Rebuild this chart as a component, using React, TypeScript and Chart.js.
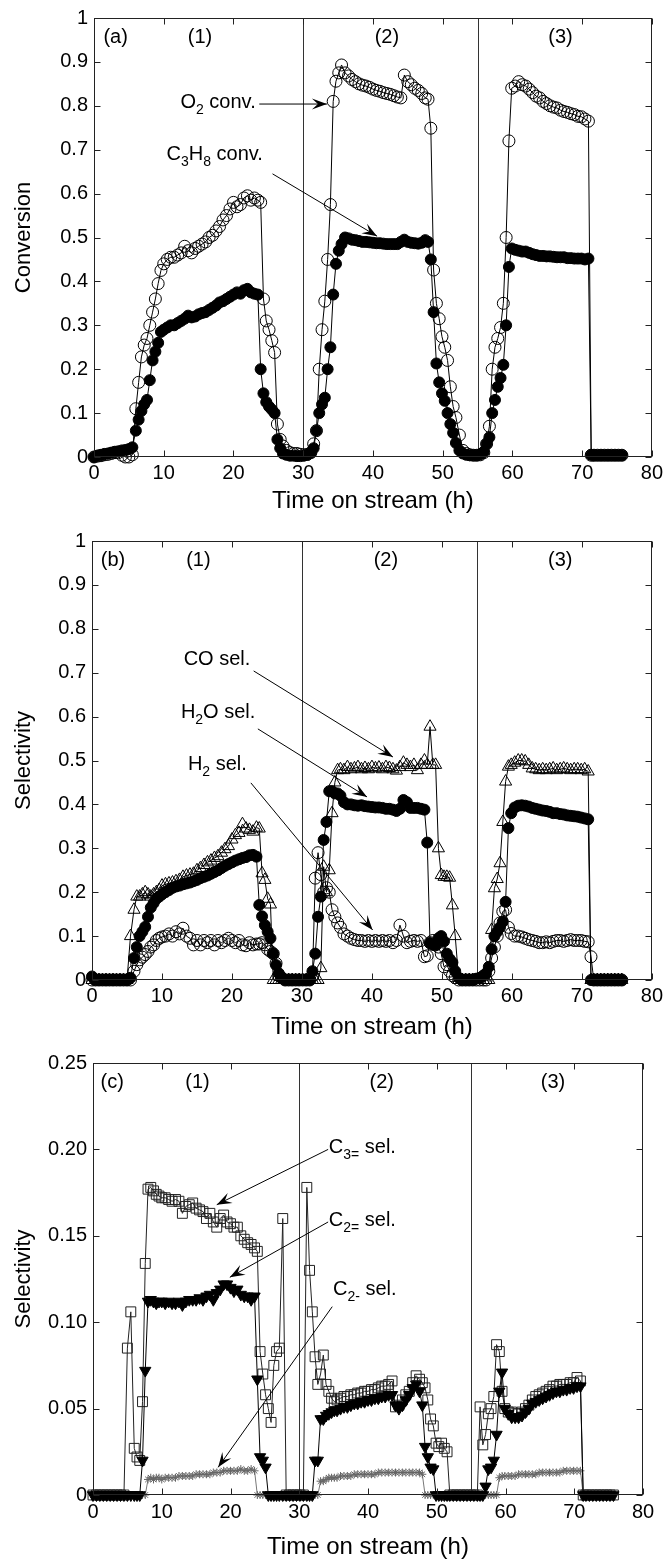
import React, { useEffect, useRef } from 'react';
import { Chart, registerables } from 'chart.js';

Chart.register(...registerables);

const FONT = '"Liberation Sans", Arial, Helvetica, sans-serif';

// Time on stream (h), shared by all three panels
const hours = [
  0, 0.5, 1, 1.5, 2, 2.5, 3, 3.5, 4, 4.5, 5, 5.5,
  6, 6.4, 6.8, 7.2, 7.6, 8, 8.4, 8.8, 9.2, 9.6,
  10, 10.5, 11, 11.5, 12, 12.5, 13, 13.5, 14, 14.5, 15, 15.5, 16, 16.5, 17, 17.5, 18, 18.5, 19, 19.5, 20, 20.5, 21, 21.5, 22, 22.5, 23, 23.5,
  23.9, 24.3, 24.7, 25.1, 25.5, 25.9, 26.3, 26.7,
  27.1, 27.6, 28.1, 28.6, 29.1, 29.6, 30.1, 30.6, 31.1,
  31.5, 31.9, 32.3, 32.7, 33.1, 33.5, 33.9, 34.3, 34.7, 35.1,
  35.5, 36, 36.5, 37, 37.5, 38, 38.5, 39, 39.5, 40, 40.5, 41, 41.5, 42, 42.5, 43, 43.5, 44, 44.5, 45, 45.5, 46, 46.5, 47, 47.5,
  47.9, 48.3, 48.7, 49.1, 49.5, 49.9, 50.3, 50.7, 51.1, 51.5, 51.9,
  52.4, 52.9, 53.4, 53.9, 54.4, 54.9, 55.4, 55.9,
  56.3, 56.7, 57.1, 57.5, 57.9, 58.3, 58.7, 59.1, 59.5,
  59.9, 60.4, 60.9, 61.4, 61.9, 62.4, 62.9, 63.4, 63.9, 64.4, 64.9, 65.4, 65.9, 66.4, 66.9, 67.4, 67.9, 68.4, 68.9, 69.4, 69.9, 70.4, 70.9,
  71.3, 71.7, 72.2, 72.7, 73.2, 73.7, 74.2, 74.7, 75.2, 75.7,
];

// (a) conversions
const c3h8Conv = [
  0, 0.003, 0.005, 0.007, 0.008, 0.01, 0.012, 0.013, 0.015, 0.016, 0.018, 0.022,
  0.06, 0.085, 0.105, 0.12, 0.13, 0.175, 0.22, 0.24, 0.26, 0.285,
  0.29, 0.295, 0.3, 0.3, 0.305, 0.31, 0.315, 0.322, 0.318, 0.32, 0.325, 0.328, 0.33, 0.335, 0.34, 0.345, 0.352, 0.355, 0.36, 0.365, 0.37, 0.375, 0.372, 0.38, 0.383, 0.375, 0.372, 0.37,
  0.2, 0.145, 0.125, 0.115, 0.108, 0.1, 0.04, 0.02,
  0.008, 0.005, 0.003, 0.003, 0.002, 0.002, 0.003, 0.005, 0.01,
  0.02, 0.06, 0.1, 0.12, 0.135, 0.2, 0.25, 0.37, 0.44, 0.47,
  0.485, 0.5, 0.498, 0.495, 0.494, 0.492, 0.49, 0.49, 0.489, 0.488, 0.487, 0.487, 0.486, 0.485, 0.485, 0.485, 0.485, 0.49, 0.495, 0.49, 0.488, 0.487, 0.486, 0.488, 0.494,
  0.49, 0.45, 0.33, 0.213, 0.17, 0.145, 0.128, 0.1, 0.075, 0.055, 0.032,
  0.015, 0.008, 0.005, 0.004, 0.004, 0.004, 0.006, 0.012,
  0.03, 0.045, 0.1, 0.13, 0.16, 0.18, 0.21, 0.3, 0.433,
  0.475, 0.472, 0.47, 0.468, 0.468, 0.465, 0.462, 0.46, 0.458, 0.458, 0.457, 0.457, 0.456, 0.455, 0.455, 0.455, 0.453, 0.453, 0.452, 0.452, 0.452, 0.45, 0.452,
  0.005, 0.004, 0.004, 0.004, 0.004, 0.004, 0.004, 0.004, 0.004, 0.004,
];
const o2Conv = [
  0, 0.002, 0.003, 0.005, 0.006, 0.008, 0.01, 0.01, 0.004, 0, 0, 0.005,
  0.11, 0.17, 0.228, 0.255, 0.27, 0.3, 0.33, 0.36, 0.395, 0.425,
  0.44, 0.45, 0.455, 0.455, 0.46, 0.465, 0.48, 0.47, 0.465, 0.475, 0.48, 0.485, 0.49, 0.5, 0.505, 0.515, 0.525, 0.54, 0.55, 0.565, 0.58, 0.57, 0.575, 0.59, 0.595, 0.585, 0.59, 0.585,
  0.58, 0.36, 0.31, 0.29, 0.265, 0.238, 0.075, 0.04,
  0.025, 0.015, 0.01, 0.008, 0.008, 0.006, 0.005, 0.006, 0.01,
  0.03, 0.06, 0.2, 0.29, 0.355, 0.45, 0.575, 0.81, 0.856, 0.875,
  0.893, 0.875, 0.868, 0.86, 0.855, 0.85, 0.847, 0.845, 0.842, 0.838, 0.835, 0.833, 0.83, 0.828, 0.826, 0.823, 0.82, 0.818, 0.87, 0.855, 0.848, 0.84, 0.835, 0.828, 0.818,
  0.815, 0.749, 0.426, 0.35, 0.315, 0.274, 0.25, 0.22, 0.16, 0.115, 0.09,
  0.05, 0.015, 0.008, 0.005, 0.004, 0.004, 0.005, 0.01,
  0.03, 0.07, 0.2, 0.25, 0.27, 0.295, 0.35, 0.5, 0.72,
  0.84, 0.845, 0.855, 0.848, 0.845, 0.838, 0.83, 0.822, 0.818, 0.81, 0.805, 0.8, 0.797, 0.795, 0.79, 0.787, 0.785, 0.782, 0.78, 0.776, 0.775, 0.77, 0.765,
  0.004, 0.004, 0.004, 0.004, 0.004, 0.004, 0.004, 0.004, 0.004, 0.004,
];

// (b) selectivities
const h2oSel = [
  0.008, 0, 0, 0, 0, 0, 0, 0, 0, 0, 0, 0.005,
  0.05, 0.075, 0.1, 0.11, 0.121, 0.144, 0.165, 0.175, 0.185, 0.19,
  0.195, 0.2, 0.205, 0.21, 0.213, 0.215, 0.218, 0.22, 0.222, 0.225, 0.228, 0.232, 0.235, 0.238, 0.242, 0.246, 0.25, 0.255, 0.26, 0.264, 0.268, 0.272, 0.275, 0.278, 0.28, 0.284, 0.285, 0.281,
  0.171, 0.145, 0.125, 0.11, 0.095, 0.06, 0.034, 0.015,
  0.005, 0, 0, 0, 0, 0, 0, 0, 0,
  0.02, 0.06, 0.144, 0.19, 0.319, 0.36, 0.43, 0.43, 0.425, 0.425,
  0.42, 0.405, 0.4, 0.4, 0.398, 0.397, 0.398, 0.396, 0.395, 0.394, 0.393, 0.393, 0.392, 0.39, 0.39, 0.388, 0.385, 0.39, 0.41, 0.405, 0.392, 0.392, 0.392, 0.39, 0.388,
  0.313, 0.084, 0.08, 0.08, 0.095, 0.1, 0.088, 0.06, 0.048, 0.04, 0.02,
  0.005, 0, 0, 0, 0, 0.003, 0.005, 0.01,
  0.015, 0.03, 0.07, 0.1, 0.11, 0.12, 0.133, 0.178, 0.346,
  0.38, 0.393, 0.397, 0.398, 0.397, 0.395, 0.392, 0.39, 0.388, 0.386, 0.385, 0.383, 0.38, 0.38, 0.378, 0.377, 0.375, 0.374, 0.373, 0.372, 0.37, 0.368, 0.366,
  0, 0, 0, 0, 0, 0, 0, 0, 0, 0,
];
const coSel = [
  0, 0, 0, 0, 0, 0, 0, 0, 0, 0, 0, 0.1,
  0.16, 0.19, 0.19, 0.195, 0.2, 0.195, 0.19, 0.195, 0.2, 0.205,
  0.215, 0.218, 0.22, 0.222, 0.225, 0.228, 0.235, 0.238, 0.24, 0.242, 0.25, 0.255, 0.262, 0.268, 0.272, 0.278, 0.282, 0.29, 0.298, 0.305, 0.32, 0.33, 0.335, 0.355, 0.345, 0.342, 0.338, 0.347,
  0.345, 0.243, 0.228, 0.185, 0.172, 0, 0, 0,
  0, 0, 0, 0, 0, 0, 0, 0, 0,
  0, 0, 0, 0.027, 0.258, 0.2, 0.25, 0.38, 0.45, 0.478,
  0.48, 0.478, 0.485, 0.48, 0.482, 0.485, 0.48, 0.483, 0.48, 0.485, 0.482, 0.484, 0.48, 0.485, 0.483, 0.48, 0.477, 0.485, 0.495, 0.49, 0.485, 0.49, 0.478, 0.49, 0.5,
  0.49, 0.577, 0.49, 0.49, 0.3, 0.239, 0.235, 0.235, 0.233, 0.17, 0.1,
  0, 0, 0, 0, 0, 0, 0, 0,
  0, 0, 0.114, 0.209, 0.23, 0.266, 0.36, 0.452, 0.486,
  0.49, 0.495, 0.5, 0.5, 0.498, 0.49, 0.482, 0.48, 0.478, 0.48, 0.478, 0.48, 0.482, 0.478, 0.48, 0.482, 0.48, 0.478, 0.48, 0.48, 0.478, 0.48, 0.475,
  0, 0, 0, 0, 0, 0, 0, 0, 0, 0,
];
const h2Sel = [
  0, 0, 0, 0, 0, 0, 0, 0, 0, 0, 0, 0,
  0.02, 0.035, 0.046, 0.052, 0.058, 0.065, 0.075, 0.08, 0.09, 0.095,
  0.098, 0.1, 0.105, 0.1, 0.11, 0.105, 0.118, 0.1, 0.095, 0.08, 0.09, 0.08, 0.09, 0.085, 0.09, 0.08, 0.09, 0.085, 0.09, 0.095, 0.09, 0.085, 0.09, 0.08, 0.078, 0.085, 0.08, 0.082,
  0.082, 0.085, 0.08, 0.07, 0.065, 0.06, 0.038, 0.01,
  0.005, 0, 0, 0, 0, 0, 0, 0, 0,
  0.01, 0.232, 0.29, 0.24, 0.2, 0.21, 0.2, 0.16, 0.144, 0.13,
  0.12, 0.105, 0.1, 0.095, 0.092, 0.09, 0.09, 0.088, 0.09, 0.088, 0.09, 0.088, 0.09, 0.088, 0.09, 0.085, 0.09, 0.125, 0.1, 0.085, 0.088, 0.09, 0.088, 0.09, 0.053,
  0.055, 0.085, 0.09, 0.08, 0.075, 0.06, 0.03, 0.035, 0.02, 0.01, 0.005,
  0, 0, 0, 0, 0, 0, 0, 0,
  0, 0.02, 0.05, 0.075, 0.1, 0.13, 0.156, 0.16, 0.12,
  0.106, 0.1, 0.1, 0.098, 0.095, 0.092, 0.09, 0.088, 0.085, 0.085, 0.087, 0.085, 0.088, 0.09, 0.09, 0.088, 0.09, 0.092, 0.09, 0.09, 0.09, 0.088, 0.087,
  0.053, 0, 0, 0, 0, 0, 0, 0, 0, 0,
];

// (c) hydrocarbon selectivities
const c3eneSel = [
  0, 0, 0, 0, 0, 0, 0, 0, 0, 0, 0.085, 0.106,
  0.027, 0.022, 0.02, 0.054, 0.134, 0.177, 0.178, 0.176, 0.174, 0.173,
  0.172, 0.172, 0.171, 0.17, 0.171, 0.17, 0.163, 0.167, 0.168, 0.169, 0.166, 0.165, 0.164, 0.16, 0.163, 0.158, 0.155, 0.16, 0.162, 0.158, 0.157, 0.155, 0.155, 0.15, 0.148, 0.146, 0.145, 0.143,
  0.141, 0.083, 0.07, 0.058, 0.05, 0.042, 0.075, 0.083,
  0.085, 0.16, 0, 0, 0, 0, 0, 0, 0.178,
  0.13, 0.106, 0.08, 0.064, 0.07, 0.081, 0.064, 0.06, 0.056, 0.054,
  0.055, 0.056, 0.057, 0.057, 0.058, 0.058, 0.059, 0.059, 0.06, 0.06, 0.061, 0.061, 0.062, 0.063, 0.063, 0.064, 0.066, 0.051, 0.052, 0.055, 0.058, 0.06, 0.065, 0.069, 0.067,
  0.065, 0.062, 0.055, 0.044, 0.04, 0.03, 0.028, 0.03, 0.027, 0.025, 0,
  0, 0, 0, 0, 0, 0, 0, 0,
  0.051, 0.029, 0.035, 0.047, 0.05, 0.057, 0.087, 0.083, 0.06,
  0.05, 0.048, 0.048, 0.047, 0.047, 0.048, 0.05, 0.052, 0.055, 0.057, 0.058, 0.059, 0.06, 0.061, 0.063, 0.063, 0.064, 0.064, 0.064, 0.065, 0.065, 0.068, 0.066,
  0, 0, 0, 0, 0, 0, 0, 0, 0, 0,
];
const c2eneSel = [
  0, 0, 0, 0, 0, 0, 0, 0, 0, 0, 0, 0,
  0, 0, 0, 0.02, 0.072, 0.112, 0.113, 0.112, 0.111, 0.112,
  0.112, 0.111, 0.112, 0.111, 0.111, 0.112, 0.11, 0.112, 0.113, 0.113, 0.113, 0.114, 0.113, 0.115, 0.116, 0.113, 0.117, 0.119, 0.122, 0.122, 0.12, 0.118, 0.119, 0.116, 0.115, 0.115, 0.113, 0.115,
  0.067, 0.022, 0.02, 0.016, 0, 0, 0, 0,
  0, 0, 0, 0, 0, 0, 0, 0, 0,
  0, 0, 0.02, 0.02, 0.044, 0.044, 0.046, 0.047, 0.048, 0.049,
  0.049, 0.05, 0.051, 0.051, 0.052, 0.053, 0.053, 0.054, 0.054, 0.055, 0.055, 0.056, 0.056, 0.057, 0.057, 0.058, 0.058, 0.052, 0.05, 0.052, 0.055, 0.058, 0.062, 0.064, 0.06,
  0.052, 0.028, 0.022, 0.016, 0.015, 0, 0, 0, 0, 0, 0,
  0, 0, 0, 0, 0, 0, 0, 0,
  0, 0, 0.005, 0.015, 0.016, 0.02, 0.035, 0.06, 0.071,
  0.05, 0.047, 0.045, 0.045, 0.045, 0.046, 0.048, 0.05, 0.053, 0.054, 0.055, 0.056, 0.057, 0.058, 0.059, 0.06, 0.06, 0.061, 0.061, 0.062, 0.062, 0.063, 0.063,
  0, 0, 0, 0, 0, 0, 0, 0, 0, 0,
];
const c2aneSel = [
  0, 0, 0, 0, 0, 0, 0, 0, 0, 0, 0, 0,
  0, 0, 0, 0, 0, 0.009, 0.01, 0.009, 0.01, 0.01,
  0.009, 0.01, 0.01, 0.01, 0.01, 0.011, 0.011, 0.011, 0.011, 0.011, 0.012, 0.012, 0.012, 0.012, 0.012, 0.013, 0.013, 0.013, 0.014, 0.014, 0.014, 0.014, 0.014, 0.015, 0.014, 0.014, 0.015, 0.014,
  0, 0, 0, 0, 0, 0, 0, 0,
  0, 0, 0, 0, 0, 0, 0, 0, 0,
  0, 0, 0, 0, 0.008, 0.008, 0.009, 0.01, 0.01, 0.01,
  0.01, 0.011, 0.011, 0.011, 0.011, 0.012, 0.012, 0.012, 0.012, 0.012, 0.012, 0.012, 0.013, 0.013, 0.013, 0.013, 0.013, 0.013, 0.013, 0.013, 0.013, 0.013, 0.013, 0.013, 0.013,
  0.012, 0, 0, 0, 0, 0, 0, 0, 0, 0, 0,
  0, 0, 0, 0, 0, 0, 0, 0,
  0, 0, 0, 0, 0, 0, 0, 0.01, 0.011,
  0.011, 0.011, 0.011, 0.011, 0.012, 0.012, 0.012, 0.012, 0.012, 0.012, 0.013, 0.013, 0.013, 0.013, 0.013, 0.013, 0.013, 0.014, 0.014, 0.014, 0.014, 0.014, 0.014,
  0, 0, 0, 0, 0, 0, 0, 0, 0, 0,
];

// Tick labels
const xTicks = [0, 10, 20, 30, 40, 50, 60, 70, 80];
const unitTicks = [0, 0.1, 0.2, 0.3, 0.4, 0.5, 0.6, 0.7, 0.8, 0.9, 1];
const smallTicks = [0, 0.05, 0.1, 0.15, 0.2, 0.25];
const switchTimes = [30, 55];
const phaseLabels = ['(1)', '(2)', '(3)'];
const phaseCentres = [15.2, 42.0, 66.9];

type Part = [string, boolean];
interface Note { parts: Part[]; at: [number, number]; from?: [number, number]; to?: [number, number]; }
interface Series { label: string; values: number[]; style: string; radius: number; rot?: number; fill: string; edge: string; line: string; }
interface Panel {
  top: number; height: number; left: number; padTop: number; padRight: number; xAxisH: number;
  xTickPad: number; xTitlePad: number; yMax: number; yTicks: number[]; yTitle: string;
  yFmt: (v: number) => string; tag: string; tagAt: [number, number]; phaseY: number;
  series: Series[]; notes: Note[];
}

const fmtUnit = (v: number) => String(Math.round(v * 10) / 10);
const fmtSmall = (v: number) => (v === 0 ? '0' : v.toFixed(2));

const panels: Panel[] = [
  {
    top: 0, height: 520, left: 94, padTop: 18, padRight: 13, xAxisH: 63, xTickPad: 4, xTitlePad: 7,
    yMax: 1, yTicks: unitTicks, yTitle: 'Conversion', yFmt: fmtUnit,
    tag: '(a)', tagAt: [3.1, 0.955], phaseY: 0.955,
    series: [
      { label: 'C3H8 conv.', values: c3h8Conv, style: 'circle', radius: 5.5, fill: '#000', edge: '#000', line: '#000' },
      { label: 'O2 conv.', values: o2Conv, style: 'circle', radius: 6, fill: 'rgba(255,255,255,0)', edge: '#000', line: '#000' },
    ],
    notes: [
      { parts: [['O', false], ['2', true], [' conv.', false]], at: [12.4, 0.807], from: [23.7, 0.804], to: [33.4, 0.804] },
      { parts: [['C', false], ['3', true], ['H', false], ['8', true], [' conv.', false]], at: [10.4, 0.689], from: [25.6, 0.645], to: [40.6, 0.503] },
    ],
  },
  {
    top: 520, height: 525, left: 92, padTop: 21, padRight: 15, xAxisH: 65, xTickPad: 4, xTitlePad: 6,
    yMax: 1, yTicks: unitTicks, yTitle: 'Selectivity', yFmt: fmtUnit,
    tag: '(b)', tagAt: [3.0, 0.955], phaseY: 0.955,
    series: [
      { label: 'H2O sel.', values: h2oSel, style: 'circle', radius: 5.5, fill: '#000', edge: '#000', line: '#000' },
      { label: 'CO sel.', values: coSel, style: 'triangle', radius: 7, fill: 'rgba(255,255,255,0)', edge: '#000', line: '#000' },
      { label: 'H2 sel.', values: h2Sel, style: 'circle', radius: 6, fill: 'rgba(255,255,255,0)', edge: '#000', line: '#000' },
    ],
    notes: [
      { parts: [['CO sel.', false]], at: [13.1, 0.731], from: [23.1, 0.704], to: [43.0, 0.508] },
      { parts: [['H', false], ['2', true], ['O sel.', false]], at: [12.7, 0.61], from: [23.7, 0.572], to: [39.3, 0.417] },
      { parts: [['H', false], ['2', true], [' sel.', false]], at: [13.7, 0.49], from: [22.7, 0.449], to: [40.1, 0.114] },
    ],
  },
  {
    top: 1045, height: 514, left: 93, padTop: 18, padRight: 24, xAxisH: 64, xTickPad: 5, xTitlePad: 0,
    yMax: 0.25, yTicks: smallTicks, yTitle: 'Selectivity', yFmt: fmtSmall,
    tag: '(c)', tagAt: [2.8, 0.2385], phaseY: 0.2385,
    series: [
      { label: 'C2= sel.', values: c2eneSel, style: 'triangle', radius: 6.5, rot: 180, fill: '#000', edge: '#000', line: '#000' },
      { label: 'C3= sel.', values: c3eneSel, style: 'rect', radius: 7, fill: 'rgba(255,255,255,0)', edge: '#222', line: '#222' },
      { label: 'C2- sel.', values: c2aneSel, style: 'star', radius: 4, fill: 'rgba(255,255,255,0)', edge: '#666', line: '#777' },
    ],
    notes: [
      { parts: [['C', false], ['3=', true], [' sel.', false]], at: [34.3, 0.201], from: [34.2, 0.2], to: [18.0, 0.168] },
      { parts: [['C', false], ['2=', true], [' sel.', false]], at: [34.3, 0.159], from: [34.2, 0.158], to: [19.9, 0.126] },
      { parts: [['C', false], ['2-', true], [' sel.', false]], at: [34.9, 0.119], from: [34.8, 0.109], to: [18.2, 0.016] },
    ],
  },
];

function drawRich(ctx: CanvasRenderingContext2D, x: number, y: number, parts: Part[], size: number) {
  let cx = x;
  ctx.textAlign = 'left';
  ctx.textBaseline = 'middle';
  for (const [txt, sub] of parts) {
    const s = sub ? Math.round(size * 0.72) : size;
    ctx.font = `${s}px ${FONT}`;
    ctx.fillText(txt, cx, sub ? y + size * 0.38 : y);
    cx += ctx.measureText(txt).width;
  }
}

function drawArrow(ctx: CanvasRenderingContext2D, x1: number, y1: number, x2: number, y2: number) {
  ctx.beginPath();
  ctx.moveTo(x1, y1);
  ctx.lineTo(x2, y2);
  ctx.stroke();
  const a = Math.atan2(y2 - y1, x2 - x1);
  const c = Math.cos(a), s = Math.sin(a);
  const L = 15, W = 5.5;
  ctx.beginPath();
  ctx.moveTo(x2, y2);
  ctx.lineTo(x2 - L * c + W * s, y2 - L * s - W * c);
  ctx.lineTo(x2 - 0.6 * L * c, y2 - 0.6 * L * s);
  ctx.lineTo(x2 - L * c - W * s, y2 - L * s + W * c);
  ctx.closePath();
  ctx.fill();
}

function framePlugin(panel: Panel) {
  return {
    id: 'frame',
    beforeDatasetsDraw(chart: any) {
      const { ctx, chartArea: a, scales } = chart;
      ctx.save();
      ctx.strokeStyle = '#333';
      ctx.lineWidth = 1;
      for (const t of switchTimes) {
        const px = Math.round(scales.x.getPixelForValue(t)) + 0.5;
        ctx.beginPath();
        ctx.moveTo(px, a.top);
        ctx.lineTo(px, a.bottom);
        ctx.stroke();
      }
      ctx.restore();
    },
    afterDatasetsDraw(chart: any) {
      const { ctx, chartArea: a, scales } = chart;
      const L = Math.round(a.left) + 0.5, R = Math.round(a.right) - 0.5;
      const T = Math.round(a.top) + 0.5, B = Math.round(a.bottom) - 0.5;
      ctx.save();
      ctx.strokeStyle = '#222';
      ctx.lineWidth = 1;
      ctx.strokeRect(L, T, R - L, B - T);
      const tl = 6;
      ctx.beginPath();
      for (const v of xTicks) {
        const px = Math.round(scales.x.getPixelForValue(v)) + 0.5;
        ctx.moveTo(px, B); ctx.lineTo(px, B - tl);
        ctx.moveTo(px, T); ctx.lineTo(px, T + tl);
      }
      for (const v of panel.yTicks) {
        const py = Math.round(scales.y.getPixelForValue(v)) + 0.5;
        ctx.moveTo(L, py); ctx.lineTo(L + tl, py);
        ctx.moveTo(R, py); ctx.lineTo(R - tl, py);
      }
      ctx.stroke();

      ctx.fillStyle = '#000';
      ctx.font = `20px ${FONT}`;
      ctx.textAlign = 'center';
      ctx.textBaseline = 'middle';
      ctx.fillText(panel.tag, scales.x.getPixelForValue(panel.tagAt[0]), scales.y.getPixelForValue(panel.tagAt[1]));
      phaseLabels.forEach((lab, i) => {
        ctx.fillText(lab, scales.x.getPixelForValue(phaseCentres[i]), scales.y.getPixelForValue(panel.phaseY));
      });
      ctx.strokeStyle = '#000';
      ctx.lineWidth = 1;
      for (const n of panel.notes) {
        drawRich(ctx, scales.x.getPixelForValue(n.at[0]), scales.y.getPixelForValue(n.at[1]), n.parts, 20);
        if (n.from && n.to) {
          drawArrow(ctx,
            scales.x.getPixelForValue(n.from[0]), scales.y.getPixelForValue(n.from[1]),
            scales.x.getPixelForValue(n.to[0]), scales.y.getPixelForValue(n.to[1]));
        }
      }
      ctx.restore();
    },
  };
}

function buildChart(canvas: HTMLCanvasElement, panel: Panel) {
  return new Chart(canvas, {
    type: 'line',
    data: {
      datasets: panel.series.map((s) => ({
        label: s.label,
        data: hours.map((t, i) => ({ x: t, y: s.values[i] })),
        borderColor: s.line,
        borderWidth: 1,
        backgroundColor: s.fill,
        pointStyle: s.style as any,
        pointRadius: s.radius,
        pointHoverRadius: s.radius,
        pointRotation: s.rot || 0,
        pointBackgroundColor: s.fill,
        pointBorderColor: s.edge,
        pointBorderWidth: 1,
        tension: 0,
        fill: false,
        clip: false as any,
      })),
    },
    options: {
      responsive: false,
      animation: false,
      events: [],
      layout: { padding: { top: panel.padTop, right: panel.padRight, bottom: 0, left: 0 } },
      plugins: { legend: { display: false }, tooltip: { enabled: false } },
      scales: {
        x: {
          type: 'linear',
          min: 0,
          max: 80,
          position: 'bottom',
          afterFit: (sc: any) => { sc.height = panel.xAxisH; },
          afterBuildTicks: (sc: any) => { sc.ticks = xTicks.map((v) => ({ value: v })); },
          grid: { display: false, drawTicks: false },
          border: { display: false },
          ticks: { font: { family: FONT, size: 20 }, color: '#000', padding: panel.xTickPad, maxRotation: 0, autoSkip: false },
          title: { display: true, text: 'Time on stream (h)', color: '#000', font: { family: FONT, size: 24, lineHeight: 1 }, padding: { top: 0, bottom: panel.xTitlePad } },
        },
        y: {
          type: 'linear',
          min: 0,
          max: panel.yMax,
          position: 'left',
          afterFit: (sc: any) => { sc.width = panel.left; },
          afterBuildTicks: (sc: any) => { sc.ticks = panel.yTicks.map((v) => ({ value: v })); },
          grid: { display: false, drawTicks: false },
          border: { display: false },
          ticks: { font: { family: FONT, size: 20 }, color: '#000', padding: 6, autoSkip: false, callback: (v: any) => panel.yFmt(Number(v)) },
          title: { display: true, text: panel.yTitle, color: '#000', font: { family: FONT, size: 22 }, padding: { top: 11, bottom: 0 } },
        },
      },
    } as any,
    plugins: [framePlugin(panel)],
  });
}

function PanelCanvas({ panel }: { panel: Panel }) {
  const ref = useRef<HTMLCanvasElement | null>(null);
  useEffect(() => {
    if (!ref.current) return;
    const chart = buildChart(ref.current, panel);
    return () => chart.destroy();
  }, [panel]);
  return (
    <canvas
      ref={ref}
      width={667}
      height={panel.height}
      style={{ position: 'absolute', left: 0, top: panel.top, width: 667, height: panel.height, display: 'block' }}
    />
  );
}

export default function App() {
  return (
    <div style={{ position: 'absolute', left: 0, top: 0, width: 667, height: 1559, background: '#fff', overflow: 'hidden' }}>
      {panels.map((p, i) => (
        <PanelCanvas key={i} panel={p} />
      ))}
    </div>
  );
}
